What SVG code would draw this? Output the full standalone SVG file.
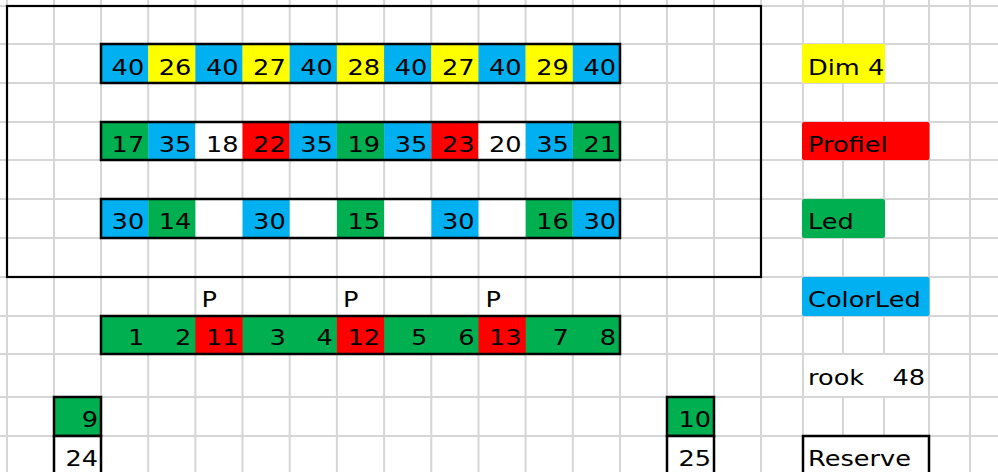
<svg xmlns="http://www.w3.org/2000/svg" width="998" height="472" viewBox="0 0 998 472">
<style>
.g{stroke:#d6d6d6;stroke-width:2}
.B{fill:#00B0F0}.Y{fill:#FFFF00}.R{fill:#FF0000}.G{fill:#00B050}.W{fill:#ffffff}
.bx{fill:none;stroke:#000;stroke-width:2.5}
text{font-family:"DejaVu Sans","Liberation Sans",sans-serif;font-size:21px;fill:#000}
.n{text-anchor:end}
</style>
<rect width="998" height="472" fill="#fff"/>
<g id="grid">
<line class="g" x1="7" y1="0" x2="7" y2="472"/><line class="g" x1="54" y1="0" x2="54" y2="472"/><line class="g" x1="101" y1="0" x2="101" y2="472"/><line class="g" x1="148.2" y1="0" x2="148.2" y2="472"/><line class="g" x1="195.4" y1="0" x2="195.4" y2="472"/><line class="g" x1="242.5" y1="0" x2="242.5" y2="472"/><line class="g" x1="289.7" y1="0" x2="289.7" y2="472"/><line class="g" x1="336.9" y1="0" x2="336.9" y2="472"/><line class="g" x1="384.1" y1="0" x2="384.1" y2="472"/><line class="g" x1="431.3" y1="0" x2="431.3" y2="472"/><line class="g" x1="478.5" y1="0" x2="478.5" y2="472"/><line class="g" x1="525.6" y1="0" x2="525.6" y2="472"/><line class="g" x1="572.8" y1="0" x2="572.8" y2="472"/><line class="g" x1="620" y1="0" x2="620" y2="472"/><line class="g" x1="667" y1="0" x2="667" y2="472"/><line class="g" x1="714" y1="0" x2="714" y2="472"/><line class="g" x1="761" y1="0" x2="761" y2="472"/><line class="g" x1="803" y1="0" x2="803" y2="472"/><line class="g" x1="843" y1="0" x2="843" y2="472"/><line class="g" x1="884" y1="0" x2="884" y2="472"/><line class="g" x1="929" y1="0" x2="929" y2="472"/><line class="g" x1="970" y1="0" x2="970" y2="472"/>
<line class="g" x1="0" y1="6" x2="998" y2="6"/><line class="g" x1="0" y1="44" x2="998" y2="44"/><line class="g" x1="0" y1="83" x2="998" y2="83"/><line class="g" x1="0" y1="122" x2="998" y2="122"/><line class="g" x1="0" y1="160" x2="998" y2="160"/><line class="g" x1="0" y1="199" x2="998" y2="199"/><line class="g" x1="0" y1="238" x2="998" y2="238"/><line class="g" x1="0" y1="277" x2="998" y2="277"/><line class="g" x1="0" y1="316" x2="998" y2="316"/><line class="g" x1="0" y1="354" x2="998" y2="354"/><line class="g" x1="0" y1="397" x2="998" y2="397"/><line class="g" x1="0" y1="436" x2="998" y2="436"/>
</g>
<rect id="frame" x="7" y="6" width="754" height="271" fill="none" stroke="#000" stroke-width="2.2"/>
<g id="row-dim">
<rect class="B" x="101" y="44" width="47.2" height="39"/><rect class="Y" x="148.2" y="44" width="47.2" height="39"/><rect class="B" x="195.4" y="44" width="47.2" height="39"/><rect class="Y" x="242.5" y="44" width="47.2" height="39"/><rect class="B" x="289.7" y="44" width="47.2" height="39"/><rect class="Y" x="336.9" y="44" width="47.2" height="39"/><rect class="B" x="384.1" y="44" width="47.2" height="39"/><rect class="Y" x="431.3" y="44" width="47.2" height="39"/><rect class="B" x="478.5" y="44" width="47.2" height="39"/><rect class="Y" x="525.6" y="44" width="47.2" height="39"/><rect class="B" x="572.8" y="44" width="47.2" height="39"/>
<rect class="bx" x="101" y="44" width="519" height="39"/>
<text class="n" transform="translate(144.2,75) scale(1.22,1)">40</text><text class="n" transform="translate(191.4,75) scale(1.22,1)">26</text><text class="n" transform="translate(238.5,75) scale(1.22,1)">40</text><text class="n" transform="translate(285.7,75) scale(1.22,1)">27</text><text class="n" transform="translate(332.9,75) scale(1.22,1)">40</text><text class="n" transform="translate(380.1,75) scale(1.22,1)">28</text><text class="n" transform="translate(427.3,75) scale(1.22,1)">40</text><text class="n" transform="translate(474.5,75) scale(1.22,1)">27</text><text class="n" transform="translate(521.6,75) scale(1.22,1)">40</text><text class="n" transform="translate(568.8,75) scale(1.22,1)">29</text><text class="n" transform="translate(616,75) scale(1.22,1)">40</text>
</g>
<g id="row-profiel">
<rect class="G" x="101" y="122" width="47.2" height="38"/><rect class="B" x="148.2" y="122" width="47.2" height="38"/><rect class="W" x="195.4" y="122" width="47.2" height="38"/><rect class="R" x="242.5" y="122" width="47.2" height="38"/><rect class="B" x="289.7" y="122" width="47.2" height="38"/><rect class="G" x="336.9" y="122" width="47.2" height="38"/><rect class="B" x="384.1" y="122" width="47.2" height="38"/><rect class="R" x="431.3" y="122" width="47.2" height="38"/><rect class="W" x="478.5" y="122" width="47.2" height="38"/><rect class="B" x="525.6" y="122" width="47.2" height="38"/><rect class="G" x="572.8" y="122" width="47.2" height="38"/>
<rect class="bx" x="101" y="122" width="519" height="38"/>
<text class="n" transform="translate(144.2,152) scale(1.22,1)">17</text><text class="n" transform="translate(191.4,152) scale(1.22,1)">35</text><text class="n" transform="translate(238.5,152) scale(1.22,1)">18</text><text class="n" transform="translate(285.7,152) scale(1.22,1)">22</text><text class="n" transform="translate(332.9,152) scale(1.22,1)">35</text><text class="n" transform="translate(380.1,152) scale(1.22,1)">19</text><text class="n" transform="translate(427.3,152) scale(1.22,1)">35</text><text class="n" transform="translate(474.5,152) scale(1.22,1)">23</text><text class="n" transform="translate(521.6,152) scale(1.22,1)">20</text><text class="n" transform="translate(568.8,152) scale(1.22,1)">35</text><text class="n" transform="translate(616,152) scale(1.22,1)">21</text>
</g>
<g id="row-led">
<rect class="W" x="101" y="199" width="519" height="39"/>
<rect class="B" x="101" y="199" width="47.2" height="39"/><rect class="G" x="148.2" y="199" width="47.2" height="39"/><rect class="B" x="242.5" y="199" width="47.2" height="39"/><rect class="G" x="336.9" y="199" width="47.2" height="39"/><rect class="B" x="431.3" y="199" width="47.2" height="39"/><rect class="G" x="525.6" y="199" width="47.2" height="39"/><rect class="B" x="572.8" y="199" width="47.2" height="39"/>
<rect class="bx" x="101" y="199" width="519" height="39"/>
<text class="n" transform="translate(144.2,229) scale(1.22,1)">30</text><text class="n" transform="translate(191.4,229) scale(1.22,1)">14</text><text class="n" transform="translate(285.7,229) scale(1.22,1)">30</text><text class="n" transform="translate(380.1,229) scale(1.22,1)">15</text><text class="n" transform="translate(474.5,229) scale(1.22,1)">30</text><text class="n" transform="translate(568.8,229) scale(1.22,1)">16</text><text class="n" transform="translate(616,229) scale(1.22,1)">30</text>
</g>
<g id="row-p">
<text transform="translate(201.5,307) scale(1.22,1)">P</text><text transform="translate(343,307) scale(1.22,1)">P</text><text transform="translate(485.5,307) scale(1.22,1)">P</text>
</g>
<g id="row-numbers">
<rect class="G" x="101" y="316" width="519" height="38"/>
<rect class="R" x="195.4" y="316" width="47.2" height="38"/><rect class="R" x="336.9" y="316" width="47.2" height="38"/><rect class="R" x="478.5" y="316" width="47.2" height="38"/>
<rect class="bx" x="101" y="316" width="519" height="38"/>
<text class="n" transform="translate(144.2,345) scale(1.22,1)">1</text><text class="n" transform="translate(191.4,345) scale(1.22,1)">2</text><text class="n" transform="translate(238.5,345) scale(1.22,1)">11</text><text class="n" transform="translate(285.7,345) scale(1.22,1)">3</text><text class="n" transform="translate(332.9,345) scale(1.22,1)">4</text><text class="n" transform="translate(380.1,345) scale(1.22,1)">12</text><text class="n" transform="translate(427.3,345) scale(1.22,1)">5</text><text class="n" transform="translate(474.5,345) scale(1.22,1)">6</text><text class="n" transform="translate(521.6,345) scale(1.22,1)">13</text><text class="n" transform="translate(568.8,345) scale(1.22,1)">7</text><text class="n" transform="translate(616,345) scale(1.22,1)">8</text>
</g>
<g id="cell-9">
<rect class="G" x="54" y="397" width="47" height="39"/><rect class="bx" x="54" y="397" width="47" height="39"/>
<text class="n" transform="translate(98,427) scale(1.22,1)">9</text>
</g>
<g id="cell-24">
<rect class="W" x="54" y="436" width="47" height="40"/><rect class="bx" x="54" y="436" width="47" height="40"/>
<text class="n" transform="translate(98,466) scale(1.22,1)">24</text>
</g>
<g id="cell-10">
<rect class="G" x="667" y="397" width="47" height="39"/><rect class="bx" x="667" y="397" width="47" height="39"/>
<text class="n" transform="translate(711,427) scale(1.22,1)">10</text>
</g>
<g id="cell-25">
<rect class="W" x="667" y="436" width="47" height="40"/><rect class="bx" x="667" y="436" width="47" height="40"/>
<text class="n" transform="translate(711,466) scale(1.22,1)">25</text>
</g>
<g id="legend-dim4"><rect class="Y" x="802" y="44" width="83" height="39" rx="2"/><text transform="translate(808,74.5) scale(1.22,1)">Dim 4</text></g>
<g id="legend-profiel"><rect class="R" x="802" y="122" width="127.5" height="38" rx="2"/><text transform="translate(808,152) scale(1.22,1)">Profiel</text></g>
<g id="legend-led"><rect class="G" x="802" y="199" width="83" height="39" rx="2"/><text transform="translate(808,229) scale(1.22,1)">Led</text></g>
<g id="legend-colorled"><rect class="B" x="802" y="277" width="127.5" height="39" rx="2"/><text transform="translate(808,307) scale(1.22,1)">ColorLed</text></g>
<g id="rook"><rect class="W" x="804" y="355" width="124" height="41"/><text transform="translate(808,385) scale(1.22,1)">rook</text><text class="n" transform="translate(925,385) scale(1.22,1)">48</text></g>
<g id="reserve"><rect class="W" x="803" y="436" width="126" height="40"/><rect class="bx" x="803" y="436" width="126" height="40"/><text transform="translate(808,466) scale(1.22,1)">Reserve</text></g>
</svg>
